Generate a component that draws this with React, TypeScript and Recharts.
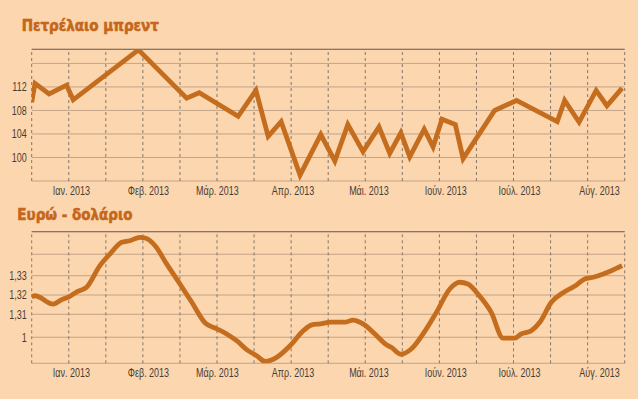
import React from "react";
import { LineChart, Line, XAxis, YAxis, CartesianGrid, ReferenceLine } from "recharts";

// Month labels and their positions (in grid-interval units, 0..16)
const monthLabels = ["Ιαν. 2013", "Φεβ. 2013", "Μάρ. 2013", "Απρ. 2013", "Μάι. 2013", "Ιούν. 2013", "Ιούλ. 2013", "Αύγ. 2013"];
const monthTickPos = [1.07, 3.15, 5.01, 7.05, 9.1, 11.17, 13.16, 15.32];
const gridX = [0, 1, 2, 3, 4, 5, 6, 7, 8, 9, 10, 11, 12, 13, 14, 15, 16];

// Brent oil
const oilTitle = "Πετρέλαιο μπρεντ";
const oilX = [0, 0.09, 0.47, 0.94, 1.12, 2.88, 4.18, 4.52, 5.57, 6.05, 6.38, 6.73, 7.24, 7.8, 8.18, 8.53, 8.94, 9.37, 9.66, 9.96, 10.2, 10.59, 10.83, 11.07, 11.43, 11.64, 12.49, 13.08, 14.18, 14.38, 14.77, 15.23, 15.52, 15.93];
const oilV = [109.4, 112.6, 110.8, 112.3, 109.8, 118.3, 110.1, 111.0, 107.0, 111.4, 103.6, 106.1, 97.0, 103.9, 99.4, 105.6, 101.0, 105.2, 100.7, 104.2, 100.1, 104.8, 101.8, 106.5, 105.6, 99.8, 108.0, 109.7, 106.1, 109.7, 106.0, 111.4, 108.8, 111.8];
const oilDomain = [96, 118.4];
const oilTicks = [96, 100, 104, 108, 112, 116];
const oilTickLabels = ["", "100", "104", "108", "112", ""];

// Euro - dollar
const fxTitle = "Ευρώ - δολάριο";
const fxX = [0, 0.09, 0.58, 0.81, 1.03, 1.23, 1.48, 1.84, 2.11, 2.43, 2.65, 2.92, 3.06, 3.33, 3.64, 4.0, 4.32, 4.68, 4.97, 5.26, 5.53, 5.8, 6.07, 6.3, 6.61, 6.97, 7.33, 7.56, 7.78, 8.08, 8.45, 8.67, 8.94, 9.26, 9.57, 9.7, 9.97, 10.24, 10.6, 10.92, 11.28, 11.55, 11.77, 12.04, 12.4, 12.72, 13.03, 13.21, 13.48, 13.71, 14.02, 14.38, 14.7, 14.92, 15.15, 15.42, 15.64, 15.93];
const fxV = [1.3191, 1.3196, 1.3153, 1.3176, 1.3193, 1.3217, 1.324, 1.3352, 1.3412, 1.3473, 1.3481, 1.3499, 1.3495, 1.3455, 1.3361, 1.3257, 1.3162, 1.3055, 1.3027, 1.2998, 1.2963, 1.2917, 1.2885, 1.2856, 1.2877, 1.2937, 1.3015, 1.3045, 1.305, 1.3059, 1.3059, 1.307, 1.305, 1.2998, 1.2942, 1.2929, 1.2893, 1.292, 1.301, 1.311, 1.3231, 1.3266, 1.3257, 1.3205, 1.311, 1.2976, 1.2976, 1.2998, 1.3015, 1.3059, 1.3162, 1.3217, 1.3252, 1.3283, 1.3292, 1.3309, 1.3326, 1.3352];
const fxDomain = [1.2846, 1.3528];
const fxTicks = [1.2846, 1.2981, 1.31, 1.32, 1.33, 1.3411];
const fxTickLabels = ["", "1", "1,31", "1,32", "1,33", ""];

const oilData = oilX.map((x, i) => ({ x, v: oilV[i] }));
const fxData = fxX.map((x, i) => ({ x, v: fxV[i] }));

const BG = "#fcd6ae";
const LINE = "#c56d1f";
const TITLE = "#c4661b";
const TEXT = "#4a3d34";
const HGRID = "#c3a487";
const TOPLINE = "#86766a";
const VGRID = "#85766a";
const FONT = "'Liberation Sans', Arial, sans-serif";
const TITLE_FONT = "'DejaVu Sans Condensed', 'DejaVu Sans', sans-serif";

function makeXTick(values: number[], labels: string[]) {
  return (props: any) => {
    const { x, y, payload } = props;
    const idx = values.indexOf(payload.value);
    const label = idx >= 0 ? labels[idx] : "";
    return (
      <g transform={`translate(${x},${y})`}>
        <text transform="scale(0.75,1)" textAnchor="middle" dy="0.71em" fill={TEXT} fontSize={12} fontFamily={FONT}>
          {label}
        </text>
      </g>
    );
  };
}

function makeYTick(values: number[], labels: string[]) {
  return (props: any) => {
    const { x, y, payload } = props;
    const idx = values.indexOf(payload.value);
    const label = idx >= 0 ? labels[idx] : "";
    return (
      <g transform={`translate(${x},${y})`}>
        <text transform="scale(0.75,1)" textAnchor="end" dy="0.36em" fill={TEXT} fontSize={12} fontFamily={FONT}>
          {label}
        </text>
      </g>
    );
  };
}

const MonthTick = makeXTick(monthTickPos, monthLabels);

type PanelProps = {
  data: { x: number; v: number }[];
  domain: number[];
  ticks: number[];
  tickLabels: string[];
  top: number;
  height: number;
  marginTop: number;
  lineType: "linear" | "monotone";
};

function Panel({ data, domain, ticks, tickLabels, top, height, marginTop, lineType }: PanelProps) {
  const YTick = makeYTick(ticks, tickLabels);
  return (
    <div style={{ position: "absolute", left: 0, top }}>
      <LineChart width={638} height={height} data={data} margin={{ top: marginTop, right: 13.3, bottom: 0, left: 0 }}>
        <CartesianGrid vertical={false} stroke={HGRID} strokeWidth={1} />
        <XAxis
          dataKey="x"
          type="number"
          domain={[0, 16]}
          allowDataOverflow
          ticks={gridX}
          interval={0}
          tick={false}
          axisLine={false}
          tickLine={false}
          height={0}
        />
        <XAxis
          xAxisId="m"
          dataKey="x"
          type="number"
          domain={[0, 16]}
          allowDataOverflow
          ticks={monthTickPos}
          interval={0}
          axisLine={false}
          tickLine={false}
          tickSize={0}
          tickMargin={5}
          height={19}
          tick={MonthTick}
        />
        <YAxis
          type="number"
          domain={domain}
          ticks={ticks}
          interval={0}
          width={31.7}
          allowDataOverflow
          axisLine={false}
          tickLine={false}
          tickSize={0}
          tickMargin={5}
          tick={YTick}
        />
        {gridX.map((g) => (
          <ReferenceLine key={g} x={g} stroke={VGRID} strokeWidth={1} strokeDasharray="3 3" />
        ))}
        <ReferenceLine y={domain[1]} stroke={TOPLINE} strokeWidth={1.2} />
        <Line
          type={lineType}
          dataKey="v"
          stroke={LINE}
          strokeWidth={4.8}
          dot={false}
          isAnimationActive={false}
        />
      </LineChart>
    </div>
  );
}

export default function App() {
  return (
    <div style={{ position: "absolute", left: 0, top: 0, width: 638, height: 399, background: BG, overflow: "hidden" }}>
      <Panel data={oilData} domain={oilDomain} ticks={oilTicks} tickLabels={oilTickLabels} top={0} height={200} marginTop={49.3} lineType="linear" />
      <Panel data={fxData} domain={fxDomain} ticks={fxTicks} tickLabels={fxTickLabels} top={200} height={182.3} marginTop={31.7} lineType="monotone" />
      <svg width={638} height={399} style={{ position: "absolute", left: 0, top: 0, pointerEvents: "none" }}>
        <text x={21.7} y={30.5} fill={TITLE} stroke={TITLE} strokeWidth={0.5} fontSize={15} fontWeight="bold" fontFamily={TITLE_FONT}>
          {oilTitle}
        </text>
        <text x={17.3} y={220} fill={TITLE} stroke={TITLE} strokeWidth={0.5} fontSize={15} fontWeight="bold" fontFamily={TITLE_FONT}>
          {fxTitle}
        </text>
      </svg>
    </div>
  );
}
